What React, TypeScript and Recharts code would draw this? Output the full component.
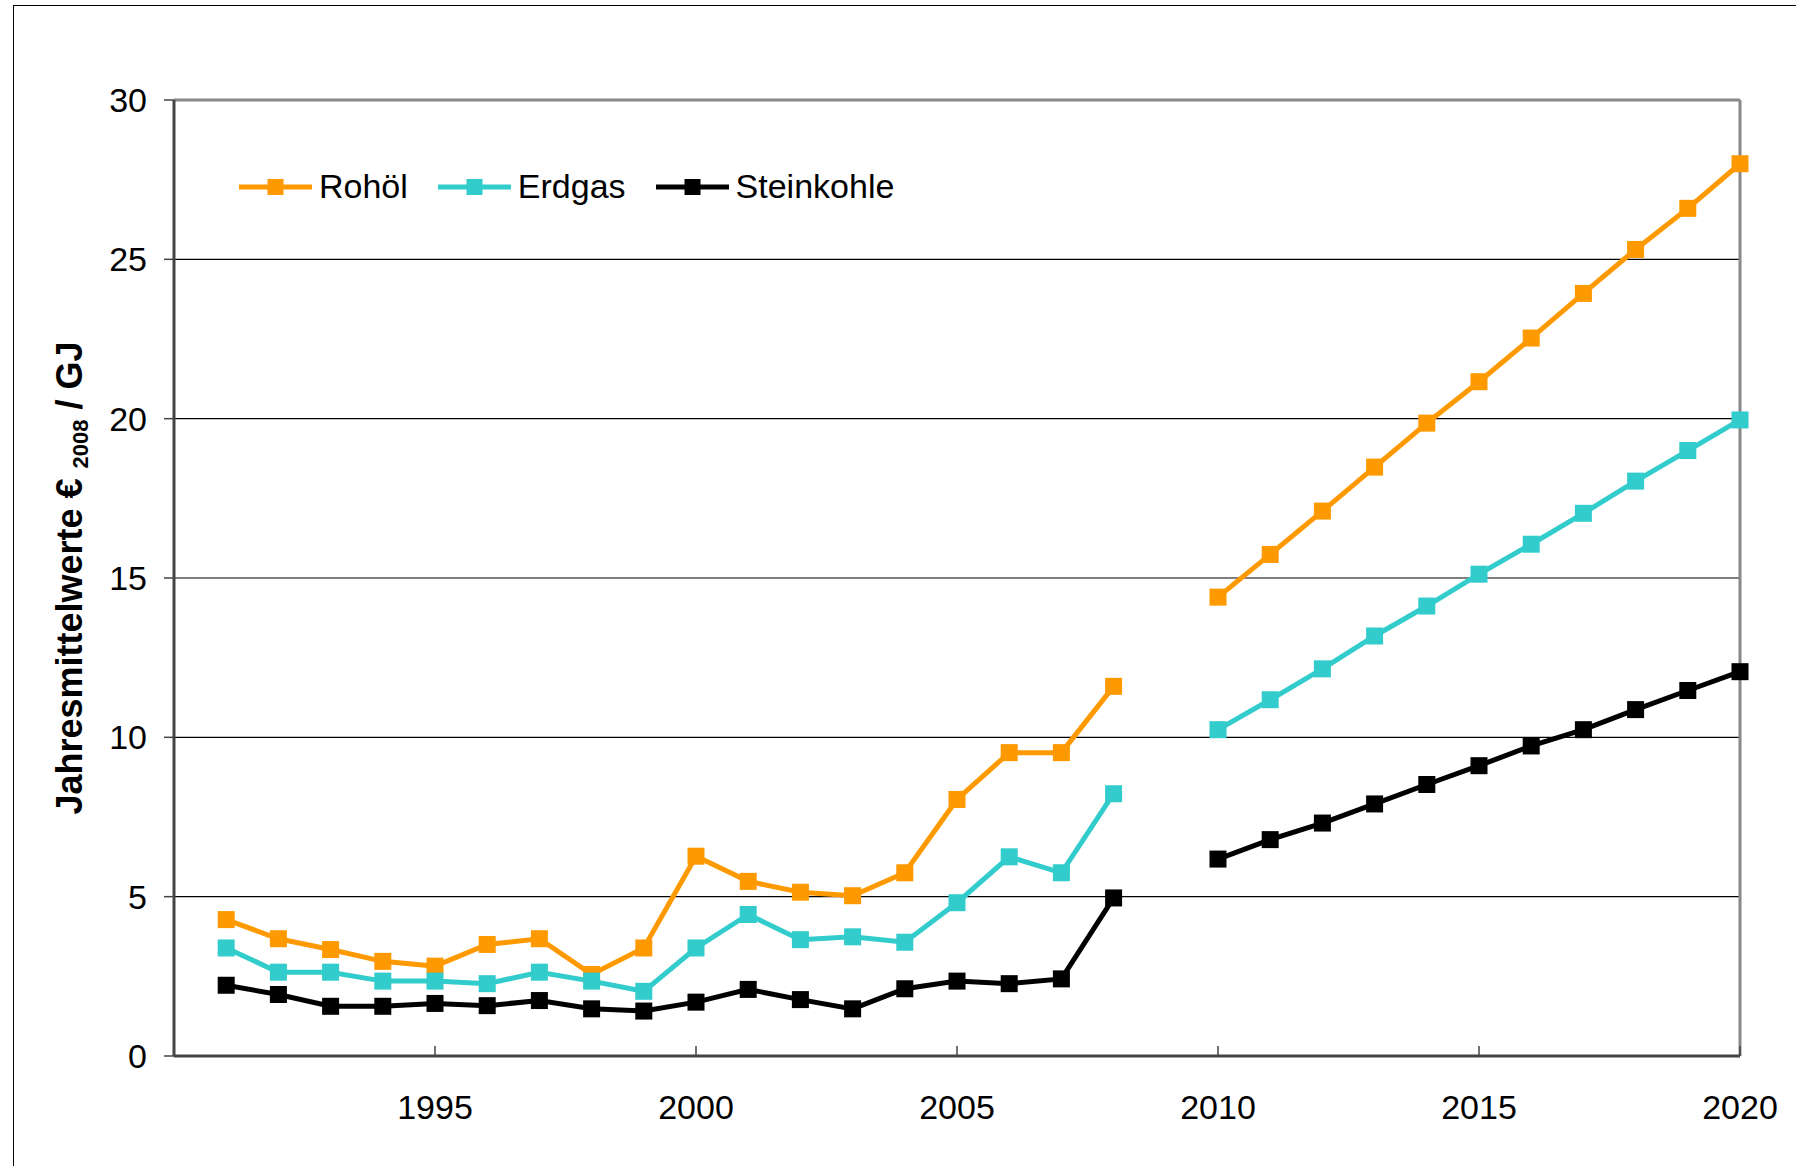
import React from 'react'
import { LineChart, Line, XAxis, YAxis, CartesianGrid, Legend, ReferenceLine, Label } from 'recharts'

// Jahre 1991–2020, 2009 ohne Wert (Lücke zwischen Ist und Prognose)
const years = [
  1991, 1992, 1993, 1994, 1995, 1996, 1997, 1998, 1999, 2000,
  2001, 2002, 2003, 2004, 2005, 2006, 2007, 2008, 2009, 2010,
  2011, 2012, 2013, 2014, 2015, 2016, 2017, 2018, 2019, 2020,
]
const rohoel = [
  4.28, 3.68, 3.34, 2.97, 2.82, 3.5, 3.68, 2.56, 3.39, 6.27,
  5.48, 5.14, 5.03, 5.75, 8.05, 9.52, 9.52, 11.6, null, 14.4,
  15.74, 17.1, 18.48, 19.86, 21.16, 22.53, 23.93, 25.31, 26.6, 28.0,
]
const erdgas = [
  3.39, 2.63, 2.63, 2.35, 2.35, 2.27, 2.63, 2.35, 2.03, 3.39,
  4.44, 3.65, 3.74, 3.57, 4.81, 6.25, 5.75, 8.23, null, 10.24,
  11.18, 12.15, 13.18, 14.12, 15.12, 16.06, 17.03, 18.04, 19.0, 19.96,
]
const steinkohle = [
  2.22, 1.93, 1.56, 1.56, 1.65, 1.58, 1.74, 1.48, 1.41, 1.69,
  2.09, 1.77, 1.48, 2.11, 2.35, 2.27, 2.42, 4.96, null, 6.18,
  6.79, 7.31, 7.91, 8.52, 9.11, 9.73, 10.24, 10.87, 11.47, 12.06,
]
const xTicks = [1995, 2000, 2005, 2010, 2015, 2020]
const yTicks = [0, 5, 10, 15, 20, 25, 30]

const series = [
  { key: 'rohoel', name: 'Rohöl', color: '#FF9900' },
  { key: 'erdgas', name: 'Erdgas', color: '#33CCCC' },
  { key: 'steinkohle', name: 'Steinkohle', color: '#000000' },
]

const data = years.map((year, i) => ({
  year,
  rohoel: rohoel[i],
  erdgas: erdgas[i],
  steinkohle: steinkohle[i],
}))

const FONT = '"Liberation Sans", Arial, Helvetica, sans-serif'

function squareDot(color: string) {
  return (props: any) => {
    const { cx, cy, index } = props
    if (cx == null || cy == null || props.value == null) return <g key={index} />
    return <rect key={index} x={cx - 8.5} y={cy - 8.5} width={17} height={17} fill={color} />
  }
}

function LegendContent() {
  return (
    <div style={{ display: 'flex', alignItems: 'center', fontFamily: FONT, fontSize: 34, color: '#000' }}>
      {series.map((s) => (
        <div key={s.key} style={{ display: 'flex', alignItems: 'center', marginRight: 30 }}>
          <svg width={73} height={20} style={{ marginRight: 7 }}>
            <line x1={0} y1={10} x2={73} y2={10} stroke={s.color} strokeWidth={5} />
            <rect x={28.5} y={2} width={16} height={16} fill={s.color} />
          </svg>
          <span>{s.name}</span>
        </div>
      ))}
    </div>
  )
}

function YLabel(props: any) {
  const { viewBox } = props
  const cx = viewBox.x + 82
  const cy = viewBox.y + viewBox.height / 2
  return (
    <text
      x={cx}
      y={cy}
      transform={`rotate(-90 ${cx} ${cy})`}
      textAnchor="middle"
      fontFamily={FONT}
      fontWeight="bold"
      fontSize={36}
      fill="#000"
    >
      Jahresmittelwerte €{' '}
      <tspan fontSize={22} dy={6}>2008</tspan>
      <tspan dy={-6}> / GJ</tspan>
    </text>
  )
}

export default function App() {
  return (
    <div style={{ position: 'absolute', left: 0, top: 0, width: 1796, height: 1166, overflow: 'hidden', background: '#fff' }}>
      <div
        style={{
          position: 'absolute',
          left: 13,
          top: 5,
          width: 1900,
          height: 1300,
          border: '1.5px solid #000',
        }}
      />
      <div style={{ position: 'absolute', left: 0, top: 0 }}>
        <LineChart
          width={1796}
          height={1166}
          data={data}
          margin={{ top: 100, right: 56, bottom: 80, left: 0 }}
        >
          <CartesianGrid vertical={false} stroke="#000" strokeWidth={1.2} />
          <XAxis
            dataKey="year"
            type="number"
            domain={[1990, 2020]}
            ticks={xTicks}
            allowDecimals={false}
            tickSize={-10}
            tickMargin={49}
            height={30}
            axisLine={{ stroke: '#444', strokeWidth: 3 }}
            tickLine={{ stroke: '#444', strokeWidth: 1.5 }}
            tick={{ fill: '#000', fontSize: 34, fontFamily: FONT }}
            interval={0}
          />
          <YAxis
            domain={[0, 30]}
            ticks={yTicks}
            width={174}
            tickSize={10}
            tickMargin={17}
            axisLine={{ stroke: '#444', strokeWidth: 3 }}
            tickLine={{ stroke: '#444', strokeWidth: 1.5 }}
            tick={{ fill: '#000', fontSize: 34, fontFamily: FONT }}
            interval={0}
          >
            <Label content={<YLabel />} />
          </YAxis>
          <ReferenceLine y={30} stroke="#888" strokeWidth={3} />
          <ReferenceLine x={2020} stroke="#888" strokeWidth={3} />
          <Legend
            verticalAlign="middle"
            align="center"
            layout="horizontal"
            content={<LegendContent />}
            wrapperStyle={{ top: 167, left: 239, width: 'auto' }}
          />
          {series.map((s) => (
            <Line
              key={s.key}
              dataKey={s.key}
              name={s.name}
              stroke={s.color}
              strokeWidth={5}
              dot={squareDot(s.color)}
              activeDot={false}
              isAnimationActive={false}
              connectNulls={false}
            />
          ))}
        </LineChart>
      </div>
    </div>
  )
}
